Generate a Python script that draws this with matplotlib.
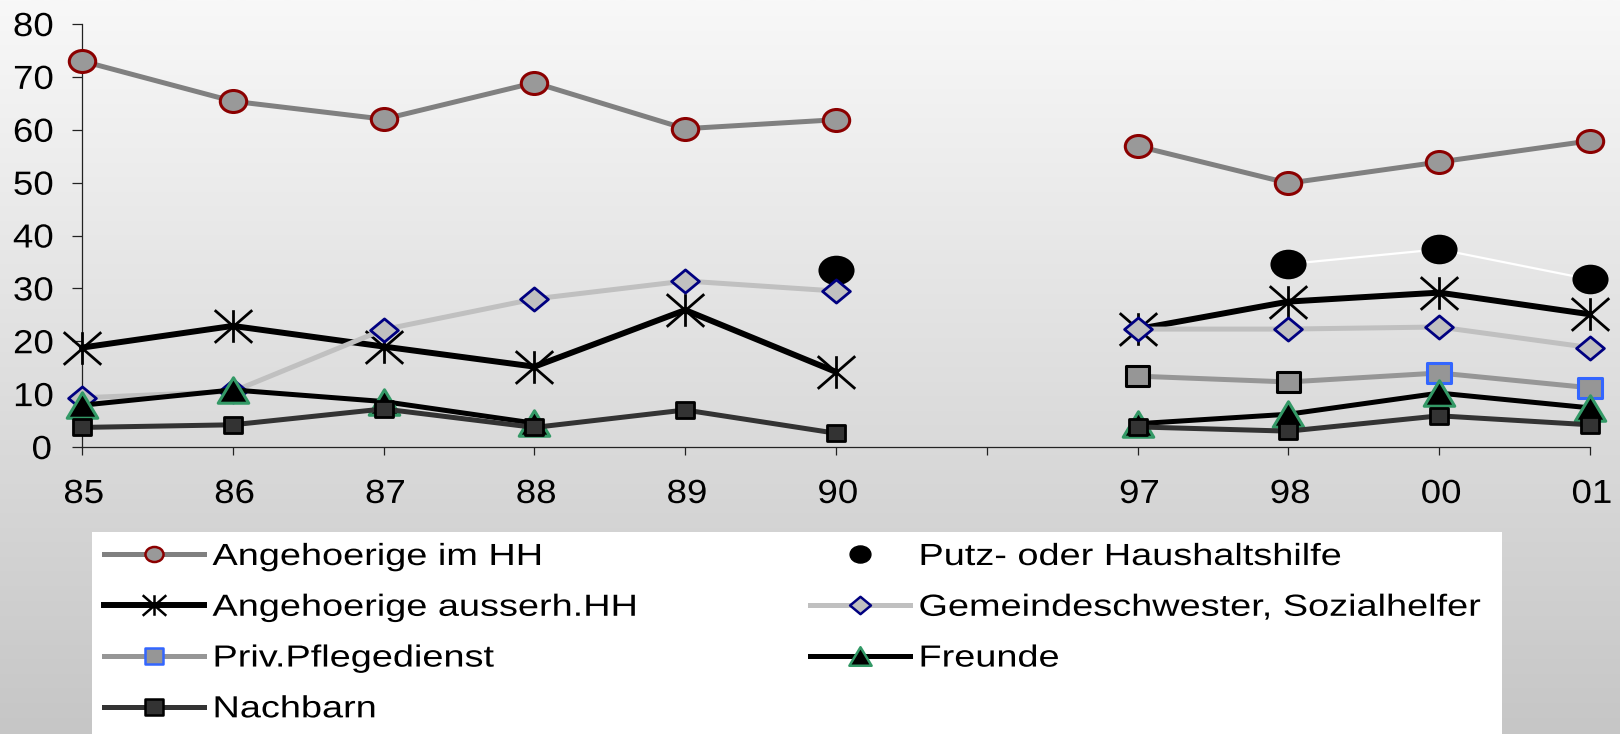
import numpy as np
import matplotlib.pyplot as plt
import matplotlib.transforms as mtransforms
from matplotlib import patheffects
from matplotlib.lines import Line2D
from matplotlib.markers import MarkerStyle
from matplotlib.path import Path
from matplotlib.patches import Rectangle
from matplotlib.colors import LinearSegmentedColormap

nan = np.nan

# ---------- data ----------
years = ['85', '86', '87', '88', '89', '90', '', '97', '98', '00', '01']

angeh_im_hh = [73.0, 65.4, 62.0, 68.9, 60.2, 61.9, nan, 56.9, 49.9, 53.9, 57.9]
putz = [nan, nan, nan, nan, nan, 33.5, nan, nan, 34.6, 37.4, 31.7]
angeh_ausserh = [18.8, 22.9, 19.0, 15.2, 25.9, 14.2, nan, 22.3, 27.5, 29.2, 25.1]
gemeinde = [9.3, 10.5, 22.2, 28.0, 31.4, 29.5, nan, 22.3, 22.3, 22.7, 18.8]
priv = [nan, nan, nan, nan, nan, nan, nan, 13.4, 12.3, 14.0, 11.2]
freunde = [7.9, 10.8, 8.6, 4.5, nan, nan, nan, 4.4, 6.2, 10.2, 7.4]
nachbarn = [3.7, 4.2, 7.2, 3.7, 7.0, 2.6, nan, 3.8, 3.0, 5.9, 4.2]

labels = ['Angehoerige im HH', 'Putz- oder Haushaltshilfe', 'Angehoerige ausserh.HH',
          'Gemeindeschwester, Sozialhelfer', 'Priv.Pflegedienst', 'Freunde', 'Nachbarn']

# edge colour of the Priv.Pflegedienst squares (black for the first two, blue later)
priv_edges = ['black'] * 9 + ['#3366ff'] * 2


# ---------- helpers: the original chart is stretched sideways ----------
def wide(m, sx=1.2):
    ms = MarkerStyle(m)
    p = ms.get_path().transformed(ms.get_transform())
    return p.transformed(mtransforms.Affine2D().scale(sx, 1.0))


class Stretch(patheffects.AbstractPathEffect):
    """draw text glyphs widened by sx around the text origin"""
    def __init__(self, sx):
        super().__init__()
        self.sx = sx

    def draw_path(self, renderer, gc, tpath, affine, rgbFace=None):
        renderer.draw_path(gc, tpath, mtransforms.Affine2D().scale(self.sx, 1.0) + affine, rgbFace)


CIRCLE = wide('o', 1.2)
BLOB = wide('o', 1.22)
DIAMOND = wide('D', 1.2)
SQUARE = wide('s', 1.18)
TRIANGLE = wide('^', 1.2)
ASTER = Path([(0, -1), (0, 1), (-1.15, -1), (1.15, 1), (-1.15, 1), (1.15, -1)],
             [Path.MOVETO, Path.LINETO, Path.MOVETO, Path.LINETO, Path.MOVETO, Path.LINETO])

plt.rcParams['font.family'] = ['Liberation Sans', 'DejaVu Sans']

fig = plt.figure(figsize=(16.2, 7.34), dpi=100)

# gradient background
bg = fig.add_axes([0, 0, 1, 1], zorder=-10)
grad = np.linspace(0, 1, 256).reshape(-1, 1)
cmap = LinearSegmentedColormap.from_list('bg', ['#f8f8f8', '#c6c6c6'])
bg.imshow(grad, aspect='auto', cmap=cmap, extent=(0, 1, 0, 1), origin='upper')
bg.axis('off')

ax = fig.add_axes([82 / 1620, 1 - 447 / 734, (1590 - 82) / 1620, (447 - 24) / 734])
ax.set_facecolor('none')
x = np.arange(len(years))

ax.plot(x, angeh_im_hh, color='#808080', lw=3.6, marker=CIRCLE, ms=19,
        mfc='#999999', mec='#8b0000', mew=2.2, clip_on=False, zorder=3)
ax.plot(x, putz, color='white', lw=1.6, marker=BLOB, ms=26,
        mfc='black', mec='black', mew=0, clip_on=False, zorder=4)
ax.plot(x, angeh_ausserh, color='black', lw=4.3, marker=ASTER, ms=27,
        mfc='none', mec='black', mew=2.0, clip_on=False, zorder=5)
ax.plot(x, priv, color='#969696', lw=3.6, clip_on=False, zorder=6)
ax.scatter(x, priv, marker=SQUARE, s=17 ** 2, c='#969696', edgecolors=priv_edges,
           linewidths=2.2, clip_on=False, zorder=6.5)
ax.plot(x, gemeinde, color='#c0c0c0', lw=3.6, marker=DIAMOND, ms=20,
        mfc='#c0c0c0', mec='#000080', mew=2.0, clip_on=False, zorder=7)
ax.plot(x, freunde, color='black', lw=3.6, marker=TRIANGLE, ms=22,
        mfc='black', mec='#339966', mew=2.2, clip_on=False, zorder=8)
ax.plot(x, nachbarn, color='#333333', lw=3.6, marker=SQUARE, ms=13,
        mfc='#333333', mec='black', mew=2.0, clip_on=False, zorder=9)

ax.set_xlim(0, len(years) - 1)
ax.set_ylim(0, 80)
ax.set_xticks(x)
ax.set_xticklabels(years)
ax.set_yticks(np.arange(0, 81, 10))
for s in ['top', 'right']:
    ax.spines[s].set_visible(False)
for s in ['left', 'bottom']:
    ax.spines[s].set_linewidth(0.9)
    ax.spines[s].set_color('#222222')
ax.tick_params(axis='y', length=7, width=0.9, pad=16, labelsize=24, color='#222222')
ax.tick_params(axis='x', length=6, width=0.9, pad=17, labelsize=24, color='#222222')
for t in ax.get_xticklabels() + ax.get_yticklabels():
    t.set_path_effects([Stretch(1.1)])

# legend box
fig.patches.append(Rectangle((92 / 1620, 0), (1502 - 92) / 1620, (734 - 532) / 734,
                             transform=fig.transFigure, facecolor='white',
                             edgecolor='none', zorder=0))

h_hh = Line2D([], [], color='#808080', lw=3.6, marker=CIRCLE, ms=13,
              mfc='#999999', mec='#8b0000', mew=1.8)
h_putz = Line2D([], [], ls='none', marker=BLOB, ms=15, mfc='black', mec='black')
h_aus = Line2D([], [], color='black', lw=4.3, marker=ASTER, ms=17,
               mfc='none', mec='black', mew=1.8)
h_gem = Line2D([], [], color='#c0c0c0', lw=3.6, marker=DIAMOND, ms=15,
               mfc='#c0c0c0', mec='#000080', mew=1.8)
h_priv = Line2D([], [], color='#969696', lw=3.6, marker=SQUARE, ms=13,
                mfc='#969696', mec='#3366ff', mew=1.8)
h_fr = Line2D([], [], color='black', lw=3.6, marker=TRIANGLE, ms=16,
              mfc='black', mec='#339966', mew=1.8)
h_nb = Line2D([], [], color='#333333', lw=3.6, marker=SQUARE, ms=13,
              mfc='#333333', mec='black', mew=1.8)

common = dict(frameon=False, prop={'size': 22}, handlelength=3.27, handletextpad=0.28,
              labelspacing=0.68, borderpad=0, borderaxespad=0, loc='upper left')
leg1 = fig.legend([h_hh, h_aus, h_priv, h_nb], [labels[0], labels[2], labels[4], labels[6]],
                  bbox_to_anchor=(104 / 1620, 1 - 542 / 734), **common)
leg2 = fig.legend([h_putz, h_gem, h_fr], [labels[1], labels[3], labels[5]],
                  bbox_to_anchor=(810 / 1620, 1 - 542 / 734), **common)
for leg in (leg1, leg2):
    for t in leg.get_texts():
        t.set_path_effects([Stretch(1.24)])

fig.savefig('out.png', dpi=100)
